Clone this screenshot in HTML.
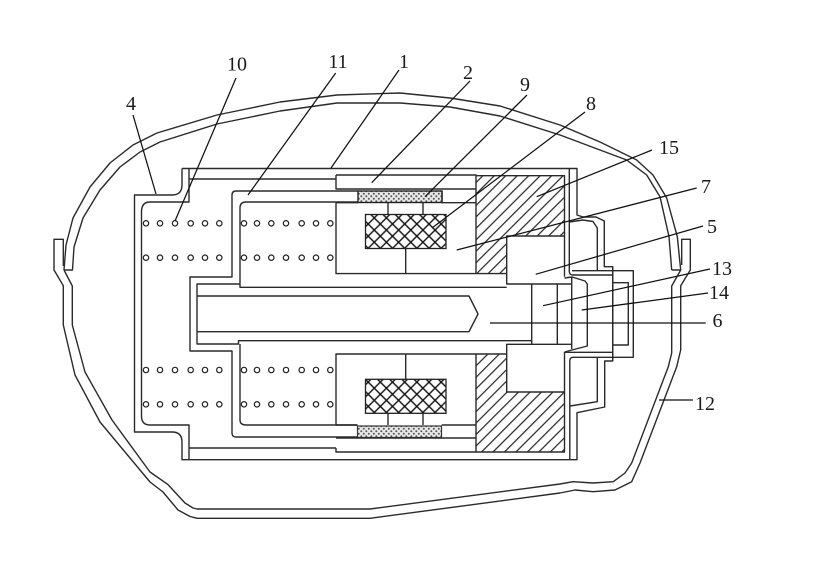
<!DOCTYPE html>
<html><head><meta charset="utf-8"><style>
html,body{margin:0;padding:0;background:#fff}
svg{display:block}
text{font-family:"Liberation Serif",serif;font-size:20px;fill:#1a1a1a;text-anchor:middle}
.l{fill:none;stroke:#2a2a2a;stroke-width:1.4;stroke-linejoin:round}
.t{fill:none;stroke:#111;stroke-width:1.25}
.d{fill:#fff;stroke:#222;stroke-width:1.2}
</style></head><body>
<svg width="822" height="570" viewBox="0 0 822 570" xmlns="http://www.w3.org/2000/svg">
<defs>
<pattern id="h" width="8.1" height="8.1" patternUnits="userSpaceOnUse" patternTransform="rotate(-45)"><line x1="0" y1="4" x2="8.1" y2="4" stroke="#222" stroke-width="1.2"/></pattern>
<pattern id="x" width="8.6" height="8.6" patternUnits="userSpaceOnUse" patternTransform="rotate(45 365.5 214.5)"><path d="M0 4.3H8.6M4.3 0V8.6" stroke="#111" stroke-width="1.4" fill="none"/></pattern>
<pattern id="s" width="5" height="5" patternUnits="userSpaceOnUse"><rect width="5" height="5" fill="#e8e8e8"/><circle cx="1.3" cy="1.3" r="1" fill="#555"/><circle cx="3.8" cy="3.8" r="1" fill="#555"/></pattern>
</defs>
<rect width="822" height="570" fill="#fff"/>

<!-- shell -->
<path class="l" d="M63.3,266V239.3H54V270L63.3,285.7V325L75,375L100,422L150,482L163,492L178,510L190,516.5L197,518.3H370L560,493L575,490L593,491.7L615,490L631.7,481.7L640,463L676.7,366.7L680.7,350V285.7L690.3,270V239.3H681.7V265"/>
<path class="l" d="M64,270L66,245L73,218L90,187L110,163L133,145L157,133L217,115L280,102L337,95L400,93L450,98L500,106L560,125L600,142L636.7,160L653,175L666.7,198L677.3,236.7L680.7,270H671.7"/>
<path class="l" d="M64,270H72.5L74,247L83,218L100,190L120,167L140,152L160,142L217,124L280,111L337,103L400,103L450,107L500,116L560,135L600,150L626.7,160L646.7,175L660,196.7L669,236.7L671.7,270"/>
<path class="l" d="M64,270L72.3,286V325L85,372L112,420L150,472L168,484.6L185,503L193,508L197,509H370L560,484L573,481.7L593,483L613.3,481.7L625,473L631.7,463L668.3,366.7L671.7,353V286L680.7,270"/>

<!-- hatch -->
<path fill="url(#h)" d="M476,175.7H564.5V236H506.7V273.6H476Z"/>
<path fill="url(#h)" d="M476,354H506.7V392H564.5V452H476Z"/>
<rect x="365.5" y="214.5" width="80.5" height="34" fill="url(#x)" stroke="#222" stroke-width="1.3"/>
<rect x="365.5" y="379.3" width="80.5" height="34" fill="url(#x)" stroke="#222" stroke-width="1.3"/>
<rect x="358" y="191" width="84" height="11.5" fill="url(#s)" stroke="#222" stroke-width="1.4"/>
<rect x="357.5" y="426" width="84" height="11.5" fill="url(#s)" stroke="#333" stroke-width="1.2"/>

<!-- housing -->
<path class="l" d="M182,168.5V185Q182,195 172,195H134.5V432H172Q182,432 182,442V459.7H577V412.7L604.7,407V361H612.7V266.7H604.3V221L596,217H583L577,215V168.5H182"/>
<path class="l" d="M189,168.5V202H150Q141.5,202 141.5,212V416Q141.5,425 150,425H189V459.7"/>
<path class="l" d="M189,179H336M189,448H336"/>
<path class="l" d="M358,191H236Q232,191 232,195V277H190V351H232V433Q232,437 236,437H358"/>
<path class="l" d="M358,202H246Q240,202 240,208V284H197V344H238.5V340.7H531.7M240,284V287.3H506.7M240,344V420Q240,425 246,425H357.5"/>
<path class="l" d="M197,296H469L478,314L469,331.7H197"/>

<!-- upper block -->
<path class="l" d="M336,175H476V273.6M336,175V189H476M442,191V202.7H476M336,202.7H358M336,202.7V273.6H506.7"/>
<path class="l" d="M388,203V214.5M423,203V214.5M405.7,248.5V273.6"/>
<path class="l" d="M476,175.7H564.5V276.7M506.7,273.6V236H564.5M506.7,273.6V284H571.7"/>
<!-- lower block -->
<path class="l" d="M336,424.7V354H506.7M336,448V452H476V354M336,438H476M441.7,425H476M336,425H357.5M476,452H564.5V352"/>
<path class="l" d="M388,413.3V425M423,413.3V425M405.7,354V379.3"/>
<path class="l" d="M506.7,354V344.3H571.7M506.7,354V392H564.5"/>

<!-- center right -->
<path class="l" d="M531.7,284V344M557.3,284V344M571.7,276.7V349"/>
<path class="l" d="M564.5,278L572,277L585,281L587.3,284V346L572,350L564.5,352"/>
<path class="l" d="M569.3,168.5V271.5Q569.3,275 573,275H612.7M572,270.7H612.7M612.7,266.7V361"/>
<path class="l" d="M569.5,222L583,220L593,221.5L597.3,228V270.7"/>
<path class="l" d="M564.5,352.3H612.7M573,357.3H633.3V270.7H612.7M569.8,459.7V361Q569.8,357.3 573,357.3"/>
<path class="l" d="M612.7,282.7H628.3V345H612.7"/>
<path class="l" d="M597.3,357.3V401.7L570,406"/>

<!-- holes -->
<g class="d">
<circle cx="146" cy="223.3" r="2.7"/><circle cx="160" cy="223.3" r="2.7"/><circle cx="175" cy="223.3" r="2.7"/><circle cx="190.7" cy="223.3" r="2.7"/><circle cx="205" cy="223.3" r="2.7"/><circle cx="219.3" cy="223.3" r="2.7"/>
<circle cx="146" cy="257.7" r="2.7"/><circle cx="160" cy="257.7" r="2.7"/><circle cx="175" cy="257.7" r="2.7"/><circle cx="190.7" cy="257.7" r="2.7"/><circle cx="205" cy="257.7" r="2.7"/><circle cx="219.3" cy="257.7" r="2.7"/>
<circle cx="146" cy="370" r="2.7"/><circle cx="160" cy="370" r="2.7"/><circle cx="175" cy="370" r="2.7"/><circle cx="190.7" cy="370" r="2.7"/><circle cx="205" cy="370" r="2.7"/><circle cx="219.3" cy="370" r="2.7"/>
<circle cx="146" cy="404.3" r="2.7"/><circle cx="160" cy="404.3" r="2.7"/><circle cx="175" cy="404.3" r="2.7"/><circle cx="190.7" cy="404.3" r="2.7"/><circle cx="205" cy="404.3" r="2.7"/><circle cx="219.3" cy="404.3" r="2.7"/>
<circle cx="244" cy="223.3" r="2.7"/><circle cx="257" cy="223.3" r="2.7"/><circle cx="271.3" cy="223.3" r="2.7"/><circle cx="286" cy="223.3" r="2.7"/><circle cx="301.7" cy="223.3" r="2.7"/><circle cx="316" cy="223.3" r="2.7"/><circle cx="330.3" cy="223.3" r="2.7"/>
<circle cx="244" cy="257.7" r="2.7"/><circle cx="257" cy="257.7" r="2.7"/><circle cx="271.3" cy="257.7" r="2.7"/><circle cx="286" cy="257.7" r="2.7"/><circle cx="301.7" cy="257.7" r="2.7"/><circle cx="316" cy="257.7" r="2.7"/><circle cx="330.3" cy="257.7" r="2.7"/>
<circle cx="244" cy="370" r="2.7"/><circle cx="257" cy="370" r="2.7"/><circle cx="271.3" cy="370" r="2.7"/><circle cx="286" cy="370" r="2.7"/><circle cx="301.7" cy="370" r="2.7"/><circle cx="316" cy="370" r="2.7"/><circle cx="330.3" cy="370" r="2.7"/>
<circle cx="244" cy="404.3" r="2.7"/><circle cx="257" cy="404.3" r="2.7"/><circle cx="271.3" cy="404.3" r="2.7"/><circle cx="286" cy="404.3" r="2.7"/><circle cx="301.7" cy="404.3" r="2.7"/><circle cx="316" cy="404.3" r="2.7"/><circle cx="330.3" cy="404.3" r="2.7"/>
</g>

<!-- leaders -->
<g class="t">
<line x1="133" y1="115" x2="156" y2="194"/>
<line x1="236" y1="78" x2="175" y2="221"/>
<line x1="335.7" y1="73" x2="248" y2="195"/>
<line x1="399" y1="70" x2="331" y2="168"/>
<line x1="470" y1="81" x2="371.7" y2="182.7"/>
<line x1="527" y1="95" x2="425" y2="196.7"/>
<line x1="585" y1="112" x2="432" y2="228"/>
<line x1="652" y1="150" x2="536.7" y2="196.7"/>
<line x1="696.7" y1="188" x2="456.7" y2="250"/>
<line x1="703" y1="226" x2="535.7" y2="274.3"/>
<line x1="710" y1="269" x2="543" y2="305.7"/>
<line x1="708" y1="293" x2="581.7" y2="310"/>
<line x1="705.7" y1="323" x2="490" y2="323"/>
<line x1="693" y1="400" x2="659" y2="400"/>
</g>

<!-- labels -->
<text x="131" y="110">4</text>
<text x="237" y="70.5">10</text>
<text x="338" y="68">11</text>
<text x="404" y="68">1</text>
<text x="468" y="79">2</text>
<text x="525" y="91">9</text>
<text x="591" y="110">8</text>
<text x="669" y="154">15</text>
<text x="706" y="193">7</text>
<text x="712" y="233">5</text>
<text x="722" y="275">13</text>
<text x="719" y="299">14</text>
<text x="717.5" y="327">6</text>
<text x="705" y="410">12</text>
</svg>
</body></html>
